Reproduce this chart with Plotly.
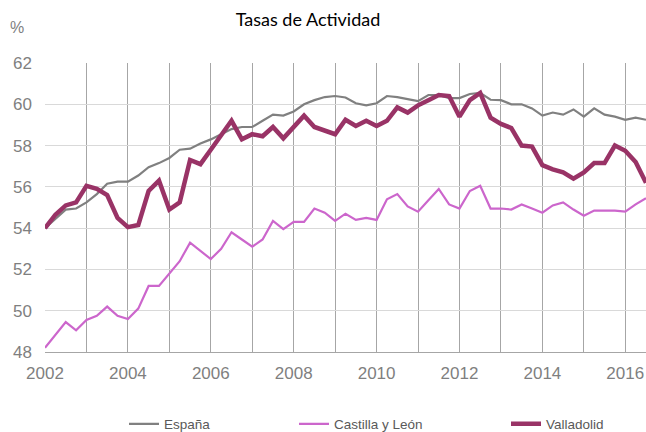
import plotly.graph_objects as go

years = list(range(2002, 2017))
quarters = [1, 2, 3, 4]
periods = [(y, q) for y in years for q in quarters][:59]  # 2002T1 .. 2016T3
x_vals = [y + (q - 1) / 4 for (y, q) in periods]

espana = [54.0, 54.45, 54.9, 54.95, 55.25, 55.65, 56.15, 56.25, 56.25, 56.55,
          56.95, 57.15, 57.4, 57.8, 57.85, 58.1, 58.3, 58.55, 58.8, 58.9,
          58.9, 59.2, 59.5, 59.45, 59.65, 60.0, 60.2, 60.35, 60.4, 60.33,
          60.05, 59.95, 60.05, 60.4, 60.35, 60.25, 60.15, 60.45, 60.45, 60.3,
          60.3, 60.5, 60.55, 60.22, 60.2, 60.0, 60.0, 59.8, 59.45, 59.6,
          59.5, 59.75, 59.4, 59.8, 59.5, 59.4, 59.25, 59.35, 59.25]

castilla_leon = [48.2, 48.8, 49.45, 49.05, 49.55, 49.75, 50.2, 49.75, 49.6, 50.1,
                 51.2, 51.2, 51.8, 52.4, 53.3, 52.9, 52.5, 53.0, 53.8, 53.45,
                 53.1, 53.45, 54.35, 53.95, 54.3, 54.3, 54.95, 54.75, 54.35, 54.7,
                 54.4, 54.5, 54.4, 55.4, 55.65, 55.05, 54.8, 55.35, 55.9, 55.15,
                 54.95, 55.8, 56.05, 54.95, 54.95, 54.9, 55.15, 54.95, 54.75, 55.1,
                 55.25, 54.9, 54.6, 54.85, 54.85, 54.85, 54.8, 55.15, 55.45]

valladolid = [54.0, 54.65, 55.1, 55.25, 56.05, 55.9, 55.6, 54.5, 54.05, 54.15,
              55.8, 56.3, 54.9, 55.25, 57.3, 57.1, 57.8, 58.5, 59.2, 58.3,
              58.55, 58.45, 58.9, 58.35, 58.9, 59.45, 58.9, 58.7, 58.55, 59.25,
              58.95, 59.2, 58.95, 59.2, 59.85, 59.6, 59.95, 60.2, 60.45, 60.4,
              59.4, 60.2, 60.55, 59.35, 59.05, 58.85, 58.0, 57.95, 57.05, 56.85,
              56.7, 56.4, 56.7, 57.15, 57.15, 58.0, 57.75, 57.2, 56.2]

series = [
    ("España", espana, "#808080", 2.2, "legend"),
    ("Castilla y León", castilla_leon, "#cc66cc", 2.2, "legend2"),
    ("Valladolid", valladolid, "#993366", 4.5, "legend3"),
]

fig = go.Figure()
for name, vals, color, width, leg in series:
    fig.add_trace(go.Scatter(x=x_vals, y=vals, mode="lines", name=name,
                             line=dict(color=color, width=width),
                             legend=leg, showlegend=True))

legend_font = dict(family="Liberation Sans, Arial, sans-serif", size=13.5, color="#595959")
common_legend = dict(orientation="h", yref="container", yanchor="middle", y=(432 - 424) / 432,
                     xanchor="left", font=legend_font, bgcolor="rgba(0,0,0,0)")

fig.update_layout(
    width=646, height=432,
    showlegend=True,
    margin=dict(l=45, r=0, t=63, b=80, autoexpand=False),
    plot_bgcolor="white", paper_bgcolor="white",
    title=dict(text="Tasas de Actividad", x=308 / 646, xanchor="center",
               y=1 - 20 / 432, yanchor="middle",
               font=dict(family="Lato, Carlito, sans-serif", size=18, color="#000000")),
    legend=dict(common_legend, x=(124 - 45) / 601),
    legend2=dict(common_legend, x=(294 - 45) / 601),
    legend3=dict(common_legend, x=(506 - 45) / 601),
    xaxis=dict(range=[2002, 2016.5], tick0=2002, dtick=2, showgrid=True,
               gridcolor="#a6a6a6", gridwidth=1,
               minor=dict(dtick=1, tick0=2002, showgrid=True, gridcolor="#a6a6a6", gridwidth=1),
               showline=True, linecolor="#a6a6a6", linewidth=1,
               zeroline=False, ticks="", ticklabelstandoff=6,
               tickfont=dict(family="Liberation Sans, Arial, sans-serif", size=17, color="#7f7f7f")),
    yaxis=dict(range=[48, 62], tick0=48, dtick=2, showgrid=True,
               gridcolor="#d9d9d9", gridwidth=1, zeroline=False, ticks="",
               ticklabelstandoff=12,
               tickfont=dict(family="Liberation Sans, Arial, sans-serif", size=17, color="#7f7f7f")),
    annotations=[dict(text="%", xref="paper", yref="paper", x=-37 / 601, y=1 + 35 / 289,
                      xanchor="left", yanchor="middle", showarrow=False,
                      font=dict(family="Liberation Sans, Arial, sans-serif", size=16, color="#7f7f7f"))],
)

fig.write_html("out.html", config={"displayModeBar": False},
               post_script="document.body.style.margin='0px';")
